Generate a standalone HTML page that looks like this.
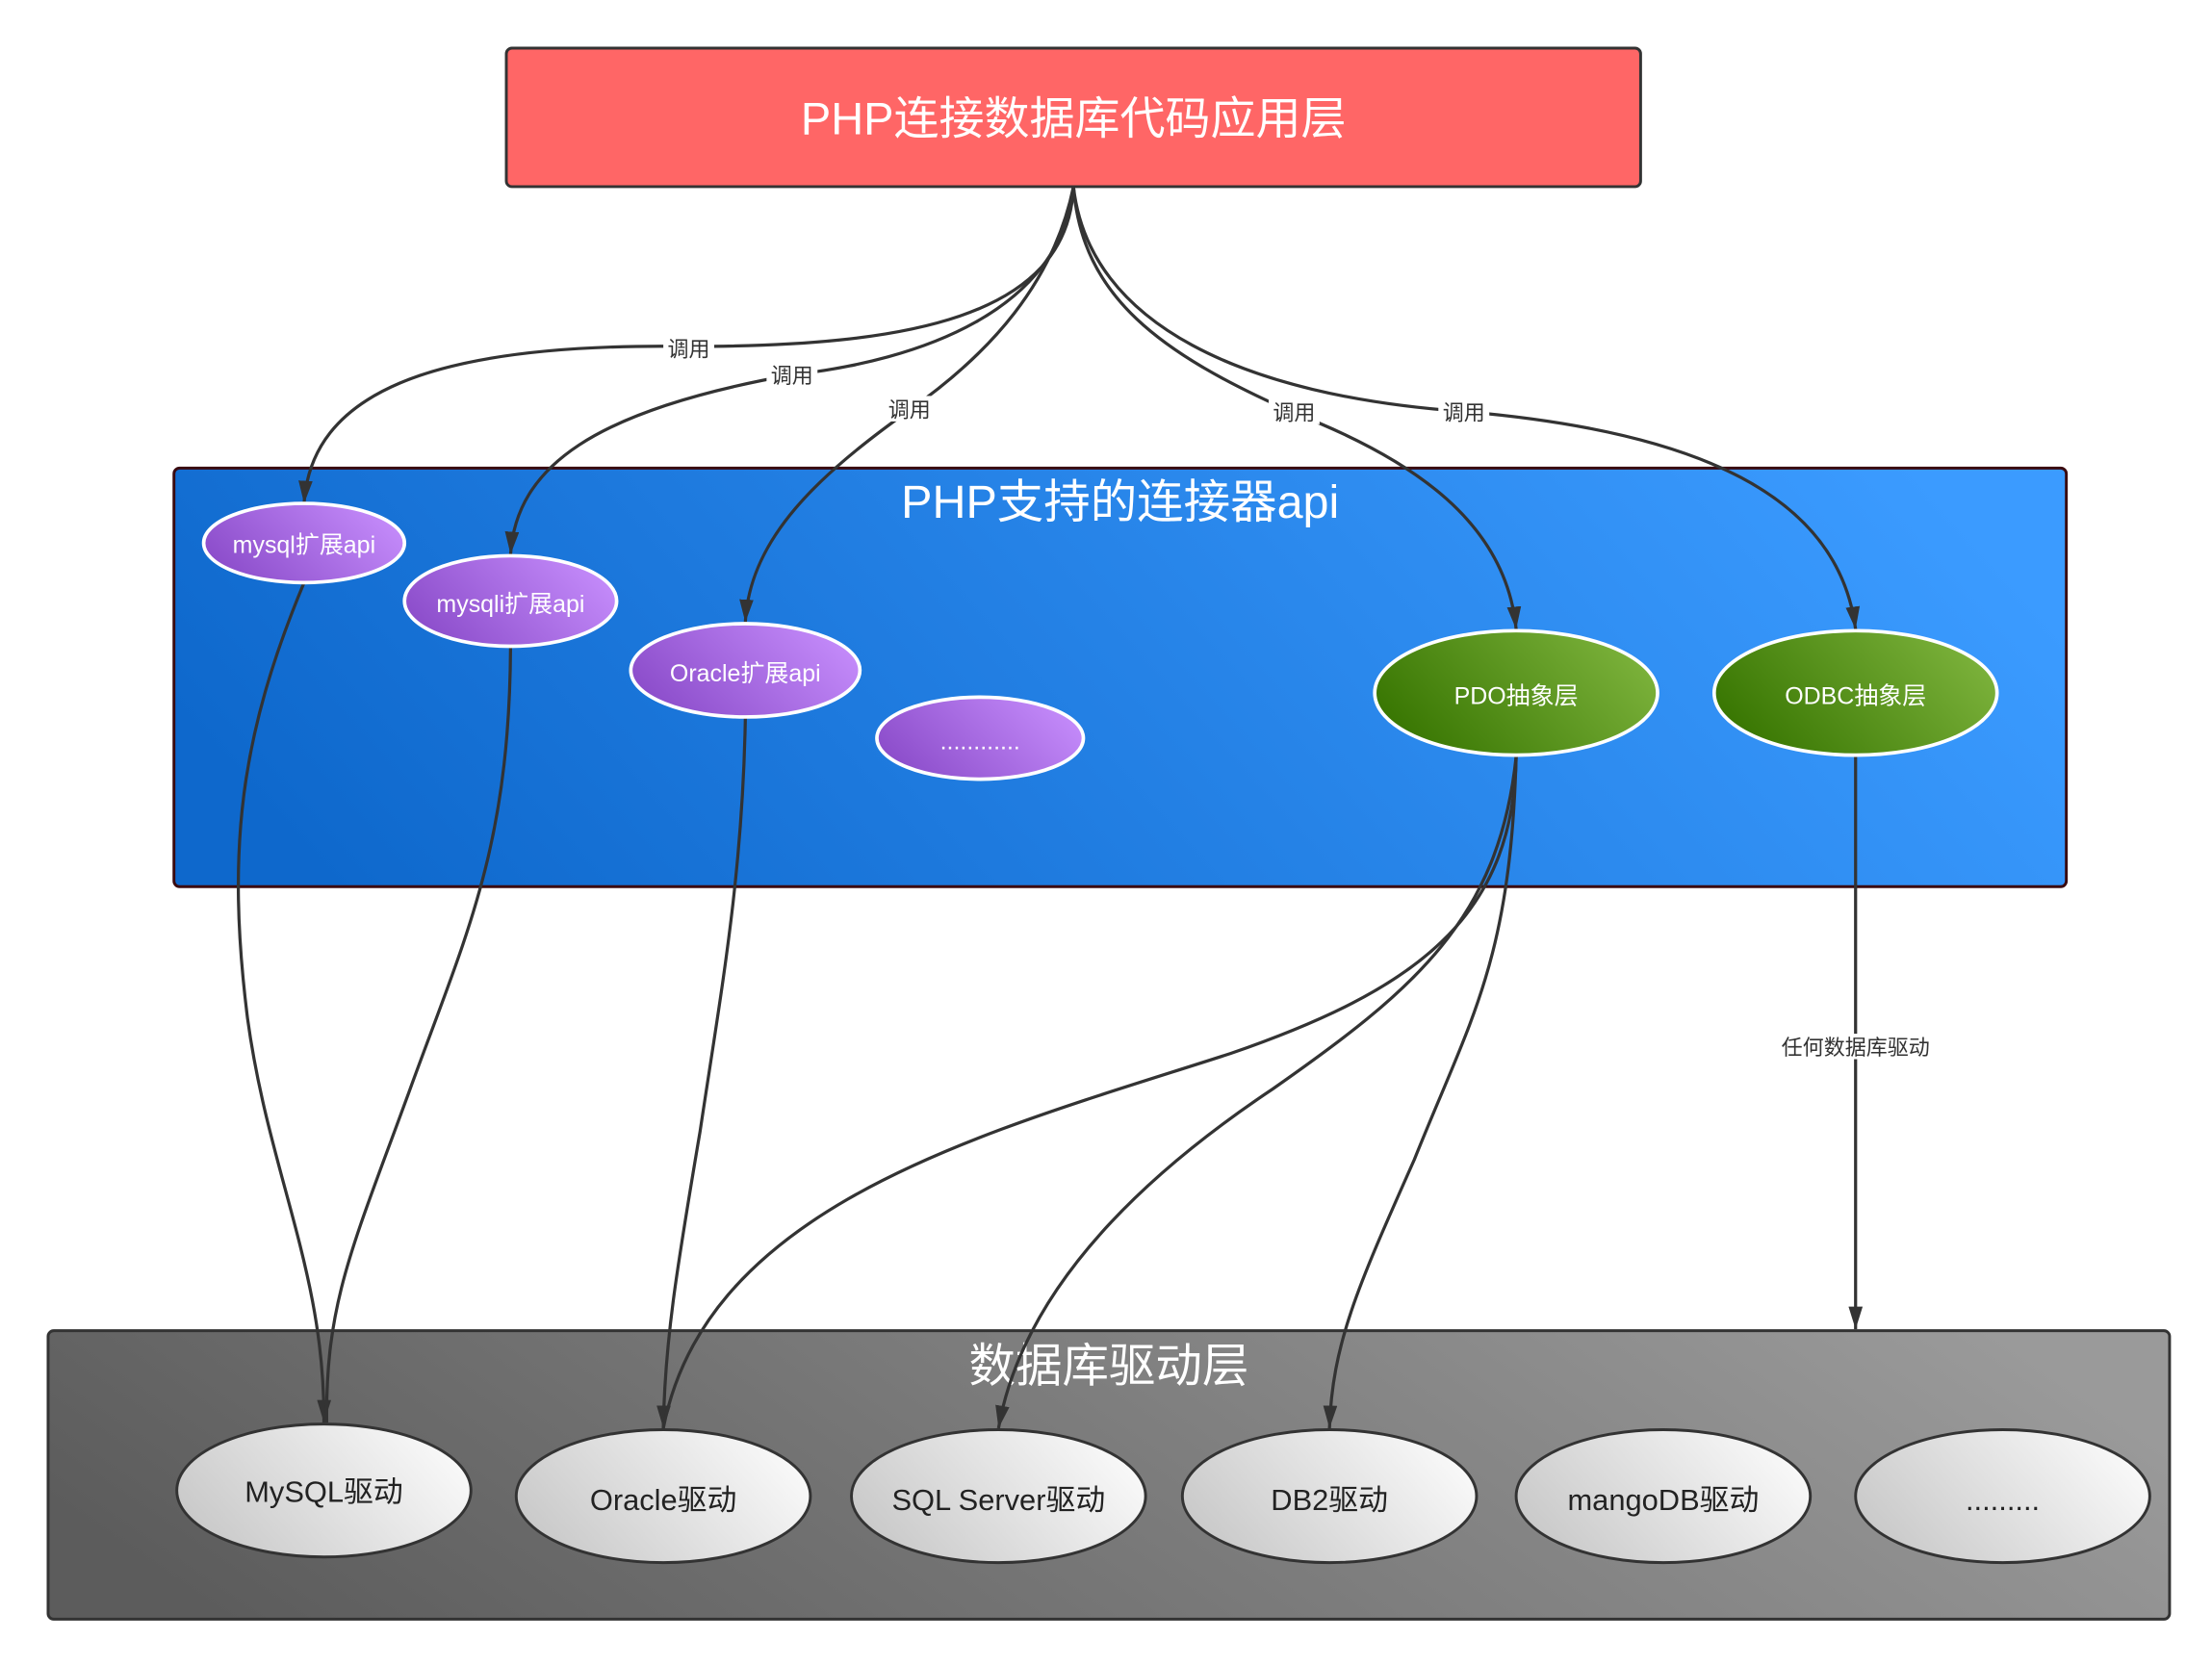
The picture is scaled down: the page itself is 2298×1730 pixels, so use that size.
<!DOCTYPE html>
<html><head><meta charset="utf-8"><style>
html,body{margin:0;padding:0;background:#fff;}
svg{display:block;}
text{font-family:"Liberation Sans","Noto Sans CJK SC",sans-serif;}
</style></head><body>
<svg width="2298" height="1730" viewBox="0 0 1564 1177.4" xmlns="http://www.w3.org/2000/svg">
<defs>
<linearGradient id="blue" x1="0" y1="0.6" x2="1" y2="0.4"><stop offset="0" stop-color="#0e68cc"/><stop offset="1" stop-color="#3b9bff"/></linearGradient>
<linearGradient id="gray" x1="0" y1="0.6" x2="1" y2="0.4"><stop offset="0" stop-color="#5c5c5c"/><stop offset="1" stop-color="#9a9a9a"/></linearGradient>
<linearGradient id="pur" x1="0" y1="0.7" x2="1" y2="0.3"><stop offset="0" stop-color="#8a4bc9"/><stop offset="1" stop-color="#c58cfb"/></linearGradient>
<linearGradient id="grn" x1="0" y1="0.7" x2="1" y2="0.3"><stop offset="0" stop-color="#367400"/><stop offset="1" stop-color="#7db33c"/></linearGradient>
<linearGradient id="wh" x1="0" y1="0.7" x2="1" y2="0.3"><stop offset="0" stop-color="#c8c8c8"/><stop offset="1" stop-color="#fafafa"/></linearGradient>
<marker id="ar" viewBox="0 0 16 10" refX="16" refY="5" markerWidth="16" markerHeight="10" markerUnits="userSpaceOnUse" orient="auto"><path d="M0,0 L16,5 L0,10 z" fill="#333"/></marker>
</defs>
<rect x="358" y="34" width="802" height="98" rx="4" fill="#ff6666" stroke="#333" stroke-width="2"/>
<text x="759" y="95" font-size="32" fill="#fff" text-anchor="middle">PHP连接数据库代码应用层</text>
<rect x="123" y="331" width="1338" height="296" rx="4" fill="url(#blue)" stroke="#3a0a10" stroke-width="2"/>
<text x="792" y="366" font-size="33" fill="#fff" text-anchor="middle">PHP支持的连接器api</text>
<rect x="34" y="941" width="1500" height="204" rx="4" fill="url(#gray)" stroke="#333" stroke-width="2"/>
<text x="784" y="977" font-size="33" fill="#fff" text-anchor="middle">数据库驱动层</text>

<g fill="none" stroke="#333" stroke-width="2.2">
<path d="M759,132 C755,225 640,245 487,245 C300,242 220,280 215,356" marker-end="url(#ar)"/>
<path d="M759,132 C750,220 650,255 560,265 C420,290 365,330 361,392" marker-end="url(#ar)"/>
<path d="M759,132 C745,200 700,250 643,290 C580,335 530,380 527,440" marker-end="url(#ar)"/>
<path d="M759,132 C765,210 820,250 915,292 C1000,325 1065,370 1072,445" marker-end="url(#ar)"/>
<path d="M759,132 C770,230 880,280 1035,291 C1200,305 1300,350 1312,445" marker-end="url(#ar)"/>
<path d="M215,412 C170,520 160,600 175,720 C190,830 230,900 229,1006" marker-end="url(#ar)"/>
<path d="M361,458 C360,600 330,660 290,770 C250,880 230,920 231,1006"/>
<path d="M527,508 C525,620 510,700 495,800 C478,900 470,950 469,1010" marker-end="url(#ar)"/>
<path d="M1072,535 C1070,650 1000,700 870,745 C700,800 500,850 469,1010"/>
<path d="M1072,535 C1060,650 1000,700 900,770 C780,850 720,930 706,1010" marker-end="url(#ar)"/>
<path d="M1072,535 C1068,680 1040,720 1000,820 C960,910 942,950 940,1010" marker-end="url(#ar)"/>
<path d="M1312,535 L1312,940" marker-end="url(#ar)"/>
</g>
<g font-size="15" fill="#333" text-anchor="middle">
<rect x="469" y="237" width="36" height="18" fill="#fff"/><text x="487" y="252">调用</text>
<rect x="542" y="256" width="36" height="18" fill="#fff"/><text x="560" y="271">调用</text>
<rect x="625" y="280" width="36" height="18" fill="#fff"/><text x="643" y="295">调用</text>
<rect x="897" y="282" width="36" height="18" fill="#fff"/><text x="915" y="297">调用</text>
<rect x="1017" y="282" width="36" height="18" fill="#fff"/><text x="1035" y="297">调用</text>
<rect x="1250" y="731" width="124" height="18" fill="#fff"/><text x="1312" y="746">任何数据库驱动</text>
</g>
<g stroke="#fff" stroke-width="2.5">
<ellipse cx="215" cy="384" rx="71" ry="28" fill="url(#pur)"/>
<ellipse cx="361" cy="425" rx="75" ry="32" fill="url(#pur)"/>
<ellipse cx="527" cy="474" rx="81" ry="33" fill="url(#pur)"/>
<ellipse cx="693" cy="522" rx="73" ry="29" fill="url(#pur)"/>
<ellipse cx="1072" cy="490" rx="100" ry="44" fill="url(#grn)"/>
<ellipse cx="1312" cy="490" rx="100" ry="44" fill="url(#grn)"/>
</g>
<g font-size="17" fill="#fff" text-anchor="middle">
<text x="215" y="391">mysql扩展api</text>
<text x="361" y="433">mysqli扩展api</text>
<text x="527" y="482">Oracle扩展api</text>
<text x="693" y="530">............</text>
<text x="1072" y="498">PDO抽象层</text>
<text x="1312" y="498">ODBC抽象层</text>
</g>
<g stroke="#333" stroke-width="2" fill="url(#wh)">
<ellipse cx="229" cy="1054" rx="104" ry="47"/>
<ellipse cx="469" cy="1058" rx="104" ry="47"/>
<ellipse cx="706" cy="1058" rx="104" ry="47"/>
<ellipse cx="940" cy="1058" rx="104" ry="47"/>
<ellipse cx="1176" cy="1058" rx="104" ry="47"/>
<ellipse cx="1416" cy="1058" rx="104" ry="47"/>
</g>
<g font-size="21" fill="#222" text-anchor="middle">
<text x="229" y="1062">MySQL驱动</text>
<text x="469" y="1068">Oracle驱动</text>
<text x="706" y="1068">SQL Server驱动</text>
<text x="940" y="1068">DB2驱动</text>
<text x="1176" y="1068">mangoDB驱动</text>
<text x="1416" y="1068">.........</text>
</g>
</svg>
</body></html>
